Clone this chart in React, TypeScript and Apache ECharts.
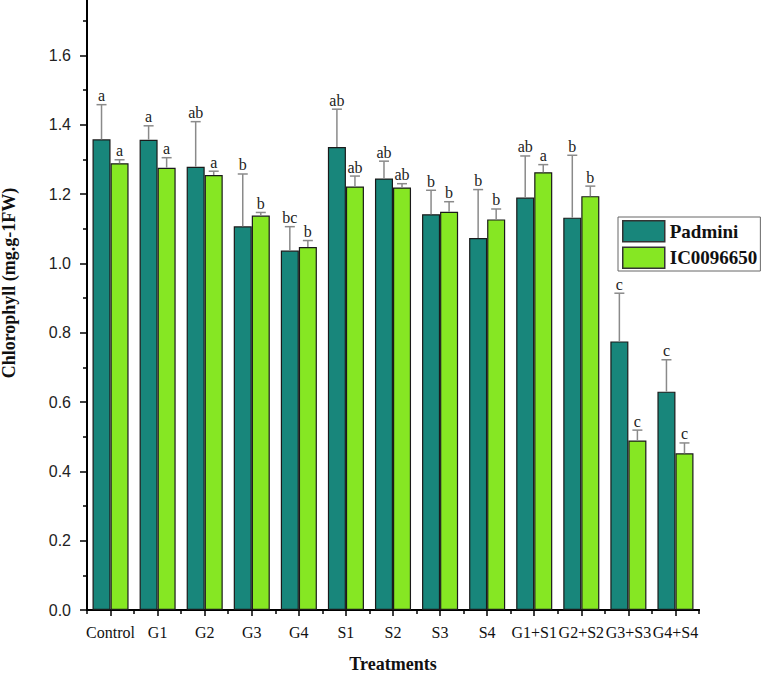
import React, { useEffect, useRef } from "react";
import * as echarts from "echarts";

const categories = ["Control", "G1", "G2", "G3", "G4", "S1", "S2", "S3", "S4", "G1+S1", "G2+S2", "G3+S3", "G4+S4"];
const padmini = [1.358, 1.357, 1.279, 1.107, 1.037, 1.336, 1.245, 1.142, 1.073, 1.19, 1.132, 0.775, 0.63];
const padminiErr = [0.1, 0.04, 0.13, 0.151, 0.069, 0.109, 0.05, 0.069, 0.14, 0.12, 0.18, 0.139, 0.092];
const ic = [1.289, 1.276, 1.255, 1.138, 1.047, 1.222, 1.219, 1.149, 1.127, 1.263, 1.194, 0.489, 0.452];
const icErr = [0.01, 0.029, 0.011, 0.009, 0.019, 0.03, 0.011, 0.029, 0.03, 0.022, 0.029, 0.03, 0.03];
const padminiLetters = ["a", "a", "ab", "b", "bc", "ab", "ab", "b", "b", "ab", "b", "c", "c"];
const icLetters = ["a", "a", "a", "b", "b", "ab", "ab", "b", "b", "a", "b", "c", "c"];
const majorTicks = [0, 0.2, 0.4, 0.6, 0.8, 1.0, 1.2, 1.4, 1.6];
const minorTicks = [0.1, 0.3, 0.5, 0.7, 0.9, 1.1, 1.3, 1.5, 1.7];

const SERIF = '"Liberation Serif", "Times New Roman", serif';
const SANS = '"Liberation Sans", Arial, sans-serif';
const BAR_FRAC = 0.383;

function makeErrRender(sign: number, letters: string[]) {
  return (params: any, api: any) => {
    const i = api.value(0);
    const mean = api.value(1);
    const top = api.value(2);
    const bw = api.size([1, 0])[0] * BAR_FRAC;
    const base = api.coord([i, mean]);
    const tp = api.coord([i, top]);
    const x = base[0] + (sign * bw) / 2;
    return {
      type: "group",
      children: [
        { type: "line", shape: { x1: x, y1: base[1], x2: x, y2: tp[1] }, style: { stroke: "#8a8a8a", lineWidth: 1.5 } },
        { type: "line", shape: { x1: x - 5, y1: tp[1], x2: x + 5, y2: tp[1] }, style: { stroke: "#8a8a8a", lineWidth: 1.5 } },
        {
          type: "text",
          x,
          y: tp[1] - 1,
          style: { text: letters[params.dataIndex], font: `16px ${SERIF}`, fill: "#222", align: "center", verticalAlign: "bottom" },
        },
      ],
    };
  };
}

export default function App() {
  const ref = useRef<HTMLDivElement>(null);
  useEffect(() => {
    const chart = echarts.init(ref.current!, null, { renderer: "svg" });
    chart.setOption({
      animation: false,
      backgroundColor: "#fff",
      grid: { left: 87, right: 63, top: 0, bottom: 64, containLabel: false, outerBoundsMode: "none" },
      legend: {
        data: ["Padmini", "IC0096650"],
        orient: "vertical",
        left: 618,
        top: 217,
        padding: [3, 3, 2, 4],
        itemWidth: 42,
        itemHeight: 21,
        itemGap: 4,
        icon: "rect",
        borderColor: "#666",
        borderWidth: 1,
        itemStyle: { borderColor: "#333", borderWidth: 1.5 },
        textStyle: { fontFamily: SERIF, fontWeight: "bold", fontSize: 19, color: "#111" },
      },
      xAxis: [
        {
          type: "category",
          data: categories,
          position: "bottom",
          axisLine: { show: true, lineStyle: { color: "#000", width: 2 } },
          axisTick: { show: true, alignWithLabel: true, interval: 0, length: 6, lineStyle: { color: "#000", width: 1.5 } },
          axisLabel: { interval: 0, fontFamily: SERIF, fontSize: 16, color: "#111", margin: 14 },
          name: "Treatments",
          nameLocation: "middle",
          nameGap: 45,
          nameTextStyle: { fontFamily: SERIF, fontWeight: "bold", fontSize: 18, color: "#111" },
          splitLine: { show: false },
        },
        {
          type: "category",
          data: categories,
          position: "bottom",
          axisLine: { show: true, lineStyle: { color: "#000", width: 2 } },
          axisTick: { show: true, alignWithLabel: false, interval: 0, length: 4, lineStyle: { color: "#000", width: 1.5 } },
          axisLabel: { show: false },
          splitLine: { show: false },
        },
      ],
      yAxis: [
        {
          type: "value",
          min: 0,
          max: 1.76,
          interval: 0.2,
          position: "left",
          axisLine: { show: true, lineStyle: { color: "#000", width: 2 } },
          axisTick: { show: true, customValues: majorTicks, length: 7, lineStyle: { color: "#000", width: 1.5 } },
          axisLabel: {
            customValues: majorTicks,
            formatter: (v: number) => v.toFixed(1),
            fontFamily: SANS,
            fontSize: 16,
            color: "#222",
            margin: 16,
          },
          splitLine: { show: false },
        },
        {
          type: "value",
          min: 0,
          max: 1.76,
          interval: 0.1,
          position: "left",
          axisLine: { show: false },
          axisTick: { show: true, customValues: minorTicks, length: 4, lineStyle: { color: "#000", width: 1.5 } },
          axisLabel: { show: false },
          splitLine: { show: false },
        },
      ],
      graphic: [
        {
          type: "text",
          x: 9,
          y: 283,
          rotation: Math.PI / 2,
          style: {
            text: "Chlorophyll (mg.g-1FW)",
            font: `bold 18px ${SERIF}`,
            fill: "#111",
            align: "center",
            verticalAlign: "middle",
          },
        },
      ],
      series: [
        {
          name: "Padmini",
          type: "bar",
          data: padmini,
          barWidth: (BAR_FRAC * 100).toFixed(1) + "%",
          barGap: "0%",
          itemStyle: { color: "#18867B", borderColor: "#1a1a1a", borderWidth: 1.2 },
        },
        {
          name: "IC0096650",
          type: "bar",
          data: ic,
          barWidth: (BAR_FRAC * 100).toFixed(1) + "%",
          barGap: "0%",
          itemStyle: { color: "#86E723", borderColor: "#1a1a1a", borderWidth: 1.2 },
        },
        {
          name: "errP",
          type: "custom",
          renderItem: makeErrRender(-1, padminiLetters),
          data: categories.map((_, i) => [i, padmini[i], padmini[i] + padminiErr[i]]),
          z: 5,
        },
        {
          name: "errI",
          type: "custom",
          renderItem: makeErrRender(1, icLetters),
          data: categories.map((_, i) => [i, ic[i], ic[i] + icErr[i]]),
          z: 5,
        },
      ],
    });
    return () => chart.dispose();
  }, []);
  return <div ref={ref} style={{ position: "absolute", left: 0, top: 0, width: 762, height: 674 }} />;
}
